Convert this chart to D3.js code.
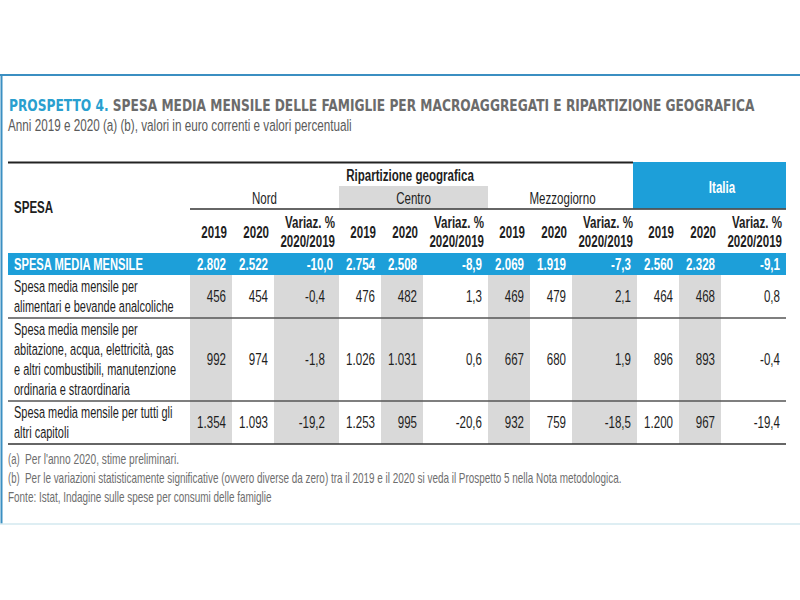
<!DOCTYPE html>
<html>
<head>
<meta charset="utf-8">
<script src="https://cdn.jsdelivr.net/npm/d3@7"></script>
<style>
  html, body { margin: 0; padding: 0; background: #ffffff; }
  svg { display: block; }
  text { font-family: "Liberation Sans", Arial, sans-serif; }
</style>
</head>
<body>
<svg id="chart" width="800" height="600"></svg>
<script>
// ---------------- DATA ----------------
const titleLead = "PROSPETTO 4.";
const titleRest = " SPESA MEDIA MENSILE DELLE FAMIGLIE PER MACROAGGREGATI E RIPARTIZIONE GEOGRAFICA";
const subtitle = "Anni 2019 e 2020 (a) (b), valori in euro correnti e valori percentuali";
const groupTitle = "Ripartizione geografica";
const stubTitle = "SPESA";
const regions = ["Nord", "Centro", "Mezzogiorno", "Italia"];
const subHeaders = ["2019", "2020", "Variaz. %|2020/2019"];
const rowLabels = [
  ["SPESA MEDIA MENSILE"],
  ["Spesa media mensile per", "alimentari e bevande analcoliche"],
  ["Spesa media mensile per", "abitazione, acqua, elettricità, gas", "e altri combustibili, manutenzione", "ordinaria e straordinaria"],
  ["Spesa media mensile per tutti gli", "altri capitoli"]
];
const nord2019   = [2802, 456, 992, 1354];
const nord2020   = [2522, 454, 974, 1093];
const nordVar    = [-10.0, -0.4, -1.8, -19.2];
const centro2019 = [2754, 476, 1026, 1253];
const centro2020 = [2508, 482, 1031, 995];
const centroVar  = [-8.9, 1.3, 0.6, -20.6];
const mezz2019   = [2069, 469, 667, 932];
const mezz2020   = [1919, 479, 680, 759];
const mezzVar    = [-7.3, 2.1, 1.9, -18.5];
const italia2019 = [2560, 464, 896, 1200];
const italia2020 = [2328, 468, 893, 967];
const italiaVar  = [-9.1, 0.8, -0.4, -19.4];
const notes = [
  ["(a)", "Per l'anno 2020, stime preliminari."],
  ["(b)", "Per le variazioni statisticamente significative (ovvero diverse da zero) tra il 2019 e il 2020 si veda il Prospetto 5 nella Nota metodologica."],
  ["", "Fonte: Istat, Indagine sulle spese per consumi delle famiglie"]
];

// ---------------- SETUP ----------------
const columns = [
  nord2019, nord2020, nordVar,
  centro2019, centro2020, centroVar,
  mezz2019, mezz2020, mezzVar,
  italia2019, italia2020, italiaVar
];
const it = d3.formatLocale({decimal: ",", thousands: ".", grouping: [3], currency: ["", " €"], minus: "-"});
const fmtInt = it.format(",d");
const fmtPct = it.format(".1f");

const BLUE = "#1d9fd9";
const GRAY = "#d9d9d9";
const INK = "#1e1e1e";
const SX = 0.68;

const svg = d3.select("#chart");

// frame
svg.append("rect").attr("x", 0).attr("y", 0).attr("width", 800).attr("height", 600).attr("fill", "#fff");
svg.append("line").attr("x1", 0).attr("x2", 800).attr("y1", 75).attr("y2", 75).attr("stroke", "#3b8fc2").attr("stroke-width", 2);
svg.append("line").attr("x1", 1.5).attr("x2", 1.5).attr("y1", 75).attr("y2", 524).attr("stroke", "#3b8fc2").attr("stroke-width", 2);
svg.append("line").attr("x1", 0).attr("x2", 800).attr("y1", 524).attr("y2", 524).attr("stroke", "#d3e8ef").attr("stroke-width", 1.5);

function txt(g, str, x, y, o = {}) {
  const t = g.append("text")
    .attr("text-anchor", o.anchor || "start")
    .attr("dy", "0.35em")
    .style("font-size", (o.size || 16) + "px")
    .style("font-weight", o.bold ? "bold" : "normal")
    .attr("fill", o.fill || INK)
    .text(str);
  if (o.family) t.style("font-family", o.family);
  let sx = o.sx || SX;
  if (o.fit) { sx = o.fit / t.node().getComputedTextLength(); }
  t.attr("transform", `translate(${x},${y}) scale(${sx},1)`);
  return t;
}

// title
const tt = svg.append("text").attr("dy", "0.35em")
  .style("font-family", "'DejaVu Sans', Verdana, sans-serif").style("font-size", "15px").style("font-weight", "bold");
tt.append("tspan").attr("fill", "#2a9fcf").text(titleLead);
tt.append("tspan").attr("fill", "#6b6b6b").text(titleRest);
const tw = tt.node().getComputedTextLength();
tt.attr("transform", `translate(9,106) scale(${746 / tw},1)`);

txt(svg, subtitle, 8, 125, {size: 17, fill: "#5a5a5a", fit: 344});

// ---------------- TABLE GEOMETRY ----------------
const tableLeft = 8, tableRight = 786, dataLeft = 190;
const weights = [42, 42, 65];
const colW = d3.range(12).map(i => weights[i % 3]);
const edges = [0, ...d3.cumsum(colW)];
const xs = d3.scaleLinear().domain([0, edges[edges.length - 1]]).range([dataLeft, tableRight]);
const colX0 = i => xs(edges[i]);
const colX1 = i => xs(edges[i + 1]);
const regionX0 = r => colX0(r * 3), regionX1 = r => colX1(r * 3 + 2);

const rowEdges = [253, 275, 318, 401, 444];
const yc = i => (rowEdges[i] + rowEdges[i + 1]) / 2;

const g = svg.append("g");
// alternate columns: even index gray, in data rows
g.selectAll("rect.col").data(d3.range(12).filter(i => i % 2 === 0)).enter().append("rect")
  .attr("class", "col")
  .attr("x", i => colX0(i)).attr("width", i => colX1(i) - colX0(i))
  .attr("y", rowEdges[1]).attr("height", rowEdges[4] - rowEdges[1])
  .attr("fill", GRAY);

// header backgrounds
g.append("rect").attr("x", 633).attr("y", 162).attr("width", tableRight - 633).attr("height", 46.5).attr("fill", BLUE);
g.append("rect").attr("x", regionX0(1)).attr("y", 186).attr("width", regionX1(1) - regionX0(1)).attr("height", 22.5).attr("fill", GRAY);
// summary row
g.append("rect").attr("x", tableLeft).attr("y", rowEdges[0]).attr("width", tableRight - tableLeft).attr("height", rowEdges[1] - rowEdges[0]).attr("fill", BLUE);

// lines
g.append("line").attr("x1", tableLeft).attr("x2", 633).attr("y1", 162.5).attr("y2", 162.5).attr("stroke", "#222").attr("stroke-width", 2);
g.append("line").attr("x1", dataLeft).attr("x2", tableRight).attr("y1", 209).attr("y2", 209).attr("stroke", "#333").attr("stroke-width", 1.5);
[2, 3, 4].forEach(k => {
  g.append("line").attr("x1", tableLeft).attr("x2", tableRight).attr("y1", rowEdges[k]).attr("y2", rowEdges[k])
    .attr("stroke", k === 4 ? "#333" : "#555").attr("stroke-width", 1.5);
});

// header texts
txt(g, groupTitle, 410, 175, {size: 17, bold: true, anchor: "middle"});
txt(g, stubTitle, 14, 207, {size: 17, bold: true});
regions.forEach((r, i) => {
  const cx = (regionX0(i) + regionX1(i)) / 2;
  if (i === 3) txt(g, r, 722, 187, {size: 17, bold: true, anchor: "middle", fill: "#fff"});
  else txt(g, r, cx, 198, {size: 17, anchor: "middle"});
});
d3.range(12).forEach(i => {
  const h = subHeaders[i % 3];
  if (h.includes("|")) {
    const [a, b] = h.split("|");
    txt(g, a, colX1(i) - 4, 222, {size: 17, bold: true, anchor: "end"});
    txt(g, b, colX1(i) - 4, 241, {size: 17, bold: true, anchor: "end"});
  } else {
    txt(g, h, colX1(i) - 5, 232, {size: 17, bold: true, anchor: "end"});
  }
});

// row labels
rowLabels.forEach((lines, r) => {
  const n = lines.length, lh = 20;
  lines.forEach((s, k) => {
    const y = yc(r) + (k - (n - 1) / 2) * lh;
    if (r === 0) txt(g, s, 14, y, {size: 17, bold: true, fill: "#fff", fit: 129});
    else txt(g, s, 14, y, {size: 17, sx: 0.645});
  });
});

// values (the Nord change column sits a little further in on the detail rows)
columns.forEach((col, i) => {
  const isVar = i % 3 === 2;
  col.forEach((v, r) => {
    const pad = (i === 2 && r > 0) ? 14 : 6;
    txt(g, isVar ? fmtPct(v) : fmtInt(v), colX1(i) - pad, yc(r),
      r === 0 ? {size: 17, bold: true, fill: "#fff", anchor: "end"} : {size: 17, anchor: "end"});
  });
});

// notes
notes.forEach((nt, k) => {
  const y = 459 + k * 19;
  if (nt[0]) {
    txt(svg, nt[0], 8, y, {size: 14, fill: "#6e6e6e"});
    txt(svg, nt[1], 25, y, {size: 14, fill: "#6e6e6e", fit: k === 0 ? 154 : 597});
  } else {
    txt(svg, nt[1], 8, y, {size: 14, fill: "#6e6e6e", fit: 264});
  }
});
</script>
</body>
</html>
